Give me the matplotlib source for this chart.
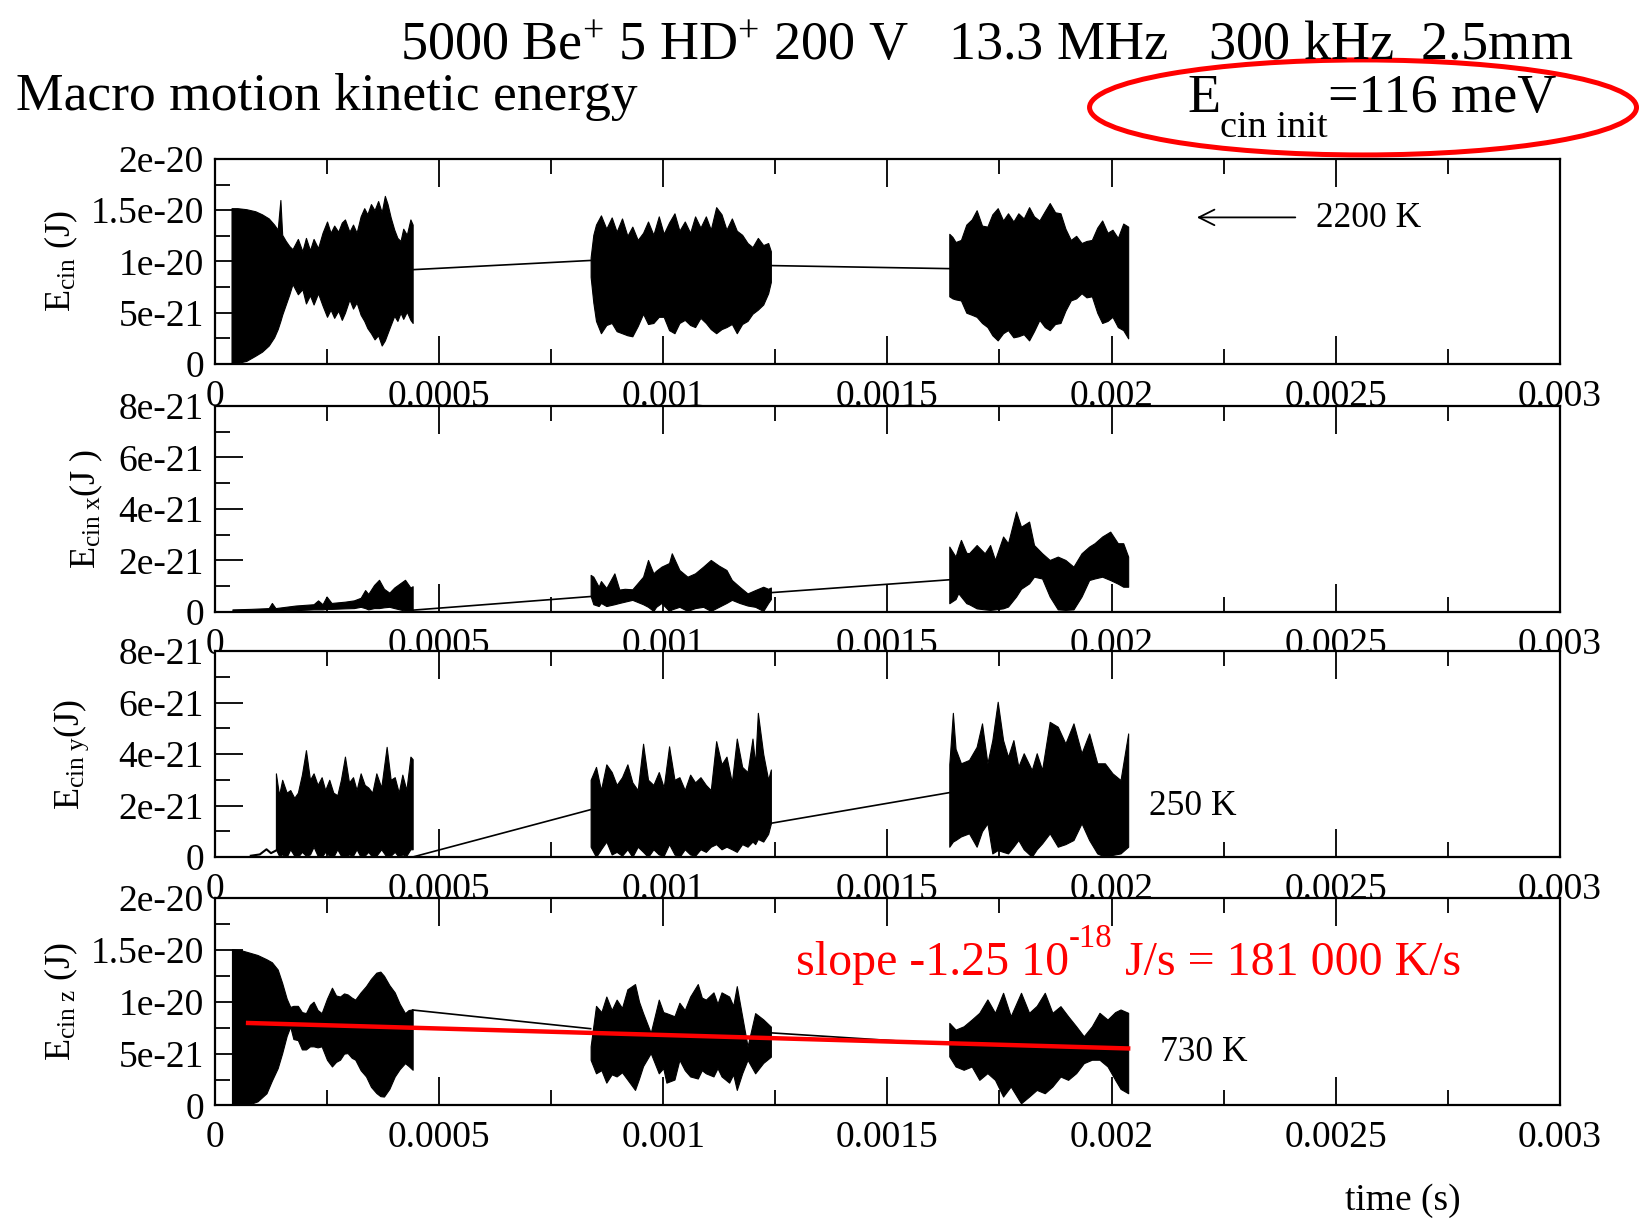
import matplotlib
matplotlib.use("Agg")
import matplotlib.pyplot as plt
from matplotlib.patches import Ellipse
from matplotlib.ticker import MultipleLocator
import numpy as np

# times in microseconds, energies in units of 1e-21 J
US = 1e-6
EU = 1e-21

x_ticks = [0, 0.0005, 0.001, 0.0015, 0.002, 0.0025, 0.003]
x_ticklabels = ["0", "0.0005", "0.001", "0.0015", "0.002", "0.0025", "0.003"]
y_ticks_big = [0, 5e-21, 1e-20, 1.5e-20, 2e-20]
y_ticklabels_big = ["0", "5e-21", "1e-20", "1.5e-20", "2e-20"]
y_ticks_small = [0, 2e-21, 4e-21, 6e-21, 8e-21]
y_ticklabels_small = ["0", "2e-21", "4e-21", "6e-21", "8e-21"]

# ---- total kinetic energy ----
tot_b1_t = [37, 50, 70, 90, 105, 120, 132, 140, 146, 150, 158, 166, 173, 185, 195, 203, 212, 220, 230, 240,
            250, 258, 266, 275, 283, 290, 300, 308, 316, 325, 333, 340, 348, 356, 364, 372, 379, 385, 392, 400,
            407, 414, 420, 428, 436, 441]
tot_b1_hi = [15.2, 15.2, 15.1, 14.9, 14.6, 14.2, 13.6, 13.1, 16.0, 12.6, 12.0, 11.5, 11.2, 12.2, 11.0, 12.3, 11.1, 12.2, 11.3, 12.8,
             13.9, 12.8, 13.5, 12.9, 13.8, 14.1, 12.9, 13.6, 12.8, 14.4, 15.2, 14.6, 15.6, 15.0, 15.9, 14.8, 16.4, 15.6, 14.3, 13.1,
             12.3, 12.0, 13.2, 12.6, 14.1, 13.6]
tot_b1_lo = [0.0, 0.1, 0.3, 0.8, 1.2, 1.8, 2.6, 3.4, 4.2, 4.8, 5.8, 6.8, 7.8, 6.8, 7.3, 5.9, 6.7, 5.8, 6.9, 5.7,
             4.6, 5.3, 4.5, 5.2, 4.3, 5.0, 6.3, 5.4, 6.0, 4.8, 4.2, 3.5, 3.0, 2.4, 2.8, 1.8, 2.3, 3.0, 3.8, 4.7,
             4.2, 5.0, 4.4, 5.1, 4.3, 4.0]
tot_b2_t = [838, 844, 850, 861, 873, 885, 896, 908, 920, 931, 943, 955, 966, 978, 990, 1001, 1013, 1025, 1036, 1048,
            1060, 1071, 1083, 1095, 1106, 1118, 1130, 1141, 1153, 1164, 1176, 1188, 1199, 1211, 1223, 1234, 1240]
tot_b2_hi = [10.4, 12.6, 13.6, 14.5, 13.2, 14.3, 12.9, 14.2, 12.5, 13.4, 12.1, 12.8, 13.9, 12.6, 14.4, 12.7, 13.8, 14.7, 13.0, 13.9,
             12.8, 14.4, 13.3, 14.4, 13.1, 15.3, 14.6, 13.1, 14.2, 13.0, 12.6, 11.8, 11.4, 12.3, 11.6, 11.8, 11.0]
tot_b2_lo = [8.5, 6.0, 4.2, 3.0, 3.8, 4.0, 3.2, 3.0, 2.8, 2.7, 3.7, 4.9, 3.9, 4.0, 4.6, 4.6, 3.3, 3.0, 4.0, 4.3,
             3.8, 3.6, 4.5, 4.0, 3.4, 3.0, 3.4, 3.6, 3.9, 3.0, 3.9, 4.2, 4.9, 5.3, 5.8, 6.9, 8.0]
tot_b3_t = [1638, 1645, 1652, 1664, 1676, 1688, 1699, 1711, 1723, 1734, 1746, 1758, 1769, 1781, 1792, 1804, 1816, 1827,
            1839, 1851, 1862, 1874, 1886, 1897, 1909, 1921, 1933, 1944, 1956, 1968, 1979, 1991, 2002, 2014, 2026, 2037]
tot_b3_hi = [12.7, 12.4, 11.9, 12.1, 13.6, 14.1, 15.0, 13.5, 13.4, 14.6, 15.2, 14.0, 14.7, 13.9, 14.7, 14.2, 15.3, 14.4,
             14.0, 14.9, 15.7, 14.8, 14.7, 13.2, 12.1, 12.5, 11.8, 12.0, 12.1, 13.3, 14.0, 12.8, 13.1, 12.3, 13.7, 13.4]
tot_b3_lo = [6.6, 6.4, 6.3, 6.2, 5.0, 4.8, 4.6, 4.0, 3.6, 2.8, 2.3, 3.0, 3.3, 2.6, 2.7, 2.9, 2.3, 3.2,
             4.3, 3.6, 3.3, 3.9, 4.0, 5.2, 6.2, 6.4, 6.9, 6.5, 6.6, 5.0, 4.0, 4.2, 4.6, 3.6, 3.3, 2.5]
tot_gap_t = [[441, 838], [1240, 1640]]
tot_gap_e = [[9.2, 10.1], [9.6, 9.3]]

# ---- x component ----
ex_b1_t = [39, 80, 120, 127, 135, 180, 220, 230, 240, 249, 260, 290, 310, 325, 335, 342, 355, 366, 377, 389,
           400, 412, 424, 436, 441]
ex_b1_hi = [0.1, 0.12, 0.15, 0.35, 0.15, 0.25, 0.3, 0.45, 0.3, 0.6, 0.35, 0.4, 0.45, 0.55, 0.85, 0.7, 1.05, 1.25, 0.9, 0.75,
            0.95, 1.1, 1.25, 0.95, 1.0]
ex_b1_lo = [0.0, 0.02, 0.04, 0.05, 0.05, 0.07, 0.1, 0.1, 0.1, 0.12, 0.12, 0.14, 0.15, 0.2, 0.15, 0.1, 0.15, 0.15, 0.18, 0.2,
            0.15, 0.1, 0.05, 0.05, 0.05]
ex_b2_t = [838, 844, 856, 861, 873, 891, 902, 914, 931, 955, 966, 978, 984, 996, 1013, 1019, 1036, 1054, 1071, 1089,
           1106, 1124, 1141, 1153, 1170, 1188, 1205, 1223, 1234, 1240]
ex_b2_hi = [1.44, 1.37, 0.98, 1.2, 0.93, 1.5, 0.87, 0.9, 0.88, 1.37, 2.02, 1.5, 1.6, 1.76, 1.9, 2.28, 1.63, 1.37, 1.5, 1.76,
            2.02, 1.8, 1.63, 1.24, 0.98, 0.72, 0.85, 0.98, 0.9, 0.95]
ex_b2_lo = [0.62, 0.3, 0.23, 0.35, 0.23, 0.3, 0.35, 0.4, 0.47, 0.3, 0.2, 0.04, 0.2, 0.35, 0.04, 0.1, 0.2, 0.04, 0.15, 0.2,
            0.04, 0.2, 0.35, 0.47, 0.35, 0.25, 0.2, 0.04, 0.35, 0.5]
ex_b3_t = [1638, 1652, 1658, 1664, 1676, 1682, 1699, 1717, 1729, 1740, 1758, 1769, 1787, 1798, 1816, 1827, 1845, 1862,
           1880, 1897, 1915, 1933, 1950, 1962, 1979, 1997, 2014, 2026, 2037]
ex_b3_hi = [2.54, 2.15, 2.5, 2.8, 2.3, 2.28, 2.6, 2.28, 2.6, 2.02, 2.93, 2.67, 3.9, 3.31, 3.51, 2.6, 2.28, 2.02,
            2.15, 2.02, 1.76, 2.28, 2.54, 2.67, 2.93, 3.12, 2.67, 2.67, 2.15]
ex_b3_lo = [0.34, 0.5, 0.73, 0.6, 0.34, 0.3, 0.14, 0.1, 0.08, 0.1, 0.14, 0.21, 0.6, 0.9, 1.11, 1.37, 1.3, 0.6,
            0.1, 0.08, 0.1, 0.6, 1.24, 1.3, 1.37, 1.24, 1.1, 0.98, 0.98]
ex_gap_t = [[441, 838], [1240, 1638]]
ex_gap_e = [[0.07, 0.6], [0.75, 1.25]]

# ---- y component ----
ey_pre_t = [80, 100, 115, 125, 136]
ey_pre_e = [0.05, 0.1, 0.3, 0.15, 0.25]
ey_b1_t = [136, 143, 150, 160, 168, 177, 185, 194, 203, 212, 220, 229, 238, 246, 255, 264, 273, 281, 290, 299,
           308, 316, 325, 334, 342, 351, 360, 371, 383, 392, 401, 410, 418, 427, 436, 441]
ey_b1_hi = [3.25, 2.4, 3.0, 2.5, 2.6, 2.3, 2.5, 3.2, 4.15, 3.0, 3.25, 2.8, 3.1, 2.6, 3.0, 2.5, 2.4, 3.0, 3.9, 2.9,
            3.1, 2.6, 3.25, 2.8, 2.7, 2.5, 3.25, 2.7, 4.28, 3.0, 3.1, 2.5, 3.2, 2.6, 3.9, 3.8]
ey_b1_lo = [0.3, 0.05, 0.1, 0.0, 0.3, 0.05, 0.0, 0.2, 0.05, 0.1, 0.4, 0.05, 0.0, 0.2, 0.05, 0.0, 0.3, 0.05, 0.0, 0.1,
            0.05, 0.3, 0.0, 0.05, 0.2, 0.0, 0.05, 0.3, 0.0, 0.05, 0.2, 0.0, 0.1, 0.05, 0.3, 0.3]
ey_b2_t = [838, 850, 861, 873, 885, 896, 908, 920, 931, 943, 955, 966, 978, 990, 1001, 1013, 1025, 1036, 1048, 1060,
           1071, 1083, 1095, 1106, 1118, 1130, 1141, 1153, 1164, 1176, 1188, 1199, 1205, 1211, 1223, 1234, 1240]
ey_b2_hi = [3.0, 3.5, 2.6, 3.6, 3.3, 2.8, 3.1, 3.6, 2.9, 2.6, 4.4, 3.0, 2.8, 3.3, 2.7, 4.3, 3.0, 3.1, 2.6, 3.2,
            2.9, 3.1, 2.8, 2.6, 4.5, 3.6, 3.9, 2.9, 4.6, 3.5, 3.3, 4.6, 3.6, 5.6, 4.0, 3.0, 3.4]
ey_b2_lo = [0.4, 0.0, 0.3, 0.6, 0.1, 0.2, 0.05, 0.3, 0.0, 0.4, 0.2, 0.0, 0.3, 0.1, 0.05, 0.5, 0.1, 0.0, 0.3, 0.1,
            0.05, 0.3, 0.2, 0.4, 0.5, 0.3, 0.4, 0.3, 0.2, 0.5, 0.4, 0.6, 0.5, 0.7, 0.6, 0.9, 1.3]
ey_b3_t = [1638, 1646, 1652, 1664, 1682, 1699, 1711, 1723, 1734, 1746, 1758, 1769, 1781, 1792, 1804, 1822, 1833, 1845,
           1862, 1880, 1897, 1915, 1933, 1950, 1968, 1985, 2002, 2020, 2037]
ey_b3_hi = [3.6, 5.6, 4.2, 3.64, 3.77, 4.28, 5.19, 3.64, 4.54, 6.03, 4.54, 3.89, 4.54, 3.51, 4.03, 3.38, 4.03, 3.38,
            5.25, 5.06, 4.41, 5.19, 4.03, 4.8, 3.64, 3.64, 3.25, 2.99, 4.8]
ey_b3_lo = [0.4, 0.6, 0.66, 0.8, 0.92, 0.4, 1.0, 1.31, 0.14, 0.27, 0.2, 0.14, 0.4, 0.66, 0.3, 0.01, 0.3, 0.53,
            0.92, 0.4, 0.5, 0.66, 1.31, 0.66, 0.14, 0.01, 0.08, 0.14, 0.4]
ey_gap_t = [[441, 838], [1240, 1638]]
ey_gap_e = [[0.0, 1.84], [1.31, 2.5]]

# ---- z component ----
ez_b1_t = [38, 55, 76, 95, 115, 127, 140, 150, 160, 168, 175, 185, 194, 203, 212, 220, 229, 238, 250, 261,
           270, 279, 288, 296, 305, 313, 325, 337, 348, 360, 369, 377, 389, 401, 412, 424, 432, 441]
ez_b1_hi = [15.06, 15.0, 14.74, 14.5, 14.09, 13.8, 13.1, 11.8, 10.3, 9.5, 9.6, 9.6, 9.0, 8.9, 9.7, 10.0, 9.2, 8.9, 10.3, 11.35,
            10.6, 10.5, 10.8, 10.7, 10.4, 10.2, 10.9, 11.5, 12.2, 12.8, 12.9, 12.5, 11.6, 10.9, 9.8, 8.9, 9.2, 9.25]
ez_b1_lo = [0.0, 0.0, 0.1, 0.4, 1.18, 2.4, 3.6, 5.05, 6.7, 7.6, 6.4, 6.3, 5.4, 5.4, 5.7, 5.7, 5.6, 5.7, 4.4, 3.76,
            4.2, 4.41, 5.0, 5.05, 4.6, 4.41, 3.4, 2.8, 1.8, 1.2, 0.9, 0.86, 1.6, 2.79, 3.5, 4.08, 3.8, 3.44]
ez_b2_t = [838, 850, 862, 873, 885, 896, 908, 920, 937, 946, 955, 972, 990, 1000, 1007, 1025, 1036, 1048, 1060, 1077,
           1086, 1095, 1112, 1121, 1130, 1147, 1156, 1164, 1176, 1188, 1205, 1223, 1240]
ez_b2_hi = [5.7, 9.6, 9.0, 10.5, 9.2, 10.2, 9.4, 11.2, 11.7, 10.0, 8.9, 7.0, 10.2, 9.0, 8.9, 8.6, 9.9, 9.2, 10.5, 11.7,
            10.4, 10.2, 10.9, 9.8, 10.9, 10.5, 9.6, 11.5, 8.6, 5.7, 8.9, 8.3, 7.6]
ez_b2_lo = [4.4, 3.1, 3.4, 2.2, 3.0, 2.8, 3.2, 2.5, 1.5, 2.6, 3.8, 5.05, 3.1, 3.6, 2.2, 2.5, 4.4, 3.4, 2.8, 2.6,
            3.4, 3.1, 2.8, 3.6, 2.8, 2.2, 3.0, 1.5, 3.1, 4.4, 3.1, 4.1, 4.7]
ez_b3_t = [1638, 1652, 1670, 1688, 1705, 1723, 1740, 1758, 1775, 1798, 1816, 1833, 1851, 1868, 1886, 1903, 1921, 1938,
           1956, 1973, 1991, 2008, 2020, 2037]
ez_b3_hi = [7.96, 7.31, 7.63, 8.28, 8.93, 10.22, 8.93, 10.86, 8.6, 10.86, 8.93, 9.6, 10.86, 8.93, 9.57, 8.6, 7.63, 6.67,
            7.63, 8.93, 8.28, 9.0, 9.25, 8.93]
ez_b3_lo = [4.73, 3.76, 3.44, 3.76, 2.47, 3.12, 2.47, 0.86, 1.83, 0.21, 0.86, 1.5, 1.18, 1.83, 2.79, 2.47, 3.12, 4.08,
            4.41, 4.41, 3.76, 2.47, 1.6, 1.18]
ez_gap_t = [[441, 838], [1240, 1638]]
ez_gap_e = [[9.2, 7.4], [7.0, 5.9]]

# linear fit on E_cin z
fit_t = [74, 2037]
fit_e0 = 7.95
fit_slope = -1.25e-18  # J/s

plt.rcParams["font.family"] = "Liberation Serif"
plt.rcParams["mathtext.fontset"] = "custom"
plt.rcParams["mathtext.rm"] = "Liberation Serif"
plt.rcParams["mathtext.it"] = "Liberation Serif:italic"
plt.rcParams["mathtext.bf"] = "Liberation Serif:bold"

W, H = 1642, 1221
fig = plt.figure(figsize=(W / 100, H / 100), dpi=100)
renderer = fig.canvas.get_renderer()

left = 0.1309
width = 0.8191
boxes = [(0.7019, 0.1679), (0.4988, 0.1687), (0.2981, 0.1687), (0.0946, 0.1700)]
axes = [fig.add_axes([left, b, width, h]) for b, h in boxes]


def draw_bursts(ax, bursts, gaps_t, gaps_e):
    for t, hi, lo in bursts:
        t = np.array(t) * US
        ax.fill_between(t, np.array(lo) * EU, np.array(hi) * EU, color="black", lw=0.8)
    for t, e in zip(gaps_t, gaps_e):
        ax.plot(np.array(t) * US, np.array(e) * EU, color="black", lw=1.2)


def put_pieces(x_px, y_px, pieces, color="black"):
    # pieces: (text, fontsize, baseline shift in px, upward positive); y_px counted from the top
    for s, size, dy in pieces:
        t = fig.text(x_px / W, 1 - (y_px - dy) / H, s, fontsize=size, color=color,
                     ha="left", va="baseline")
        x_px = t.get_window_extent(renderer).x1


draw_bursts(axes[0], [(tot_b1_t, tot_b1_hi, tot_b1_lo), (tot_b2_t, tot_b2_hi, tot_b2_lo),
                      (tot_b3_t, tot_b3_hi, tot_b3_lo)], tot_gap_t, tot_gap_e)
draw_bursts(axes[1], [(ex_b1_t, ex_b1_hi, ex_b1_lo), (ex_b2_t, ex_b2_hi, ex_b2_lo),
                      (ex_b3_t, ex_b3_hi, ex_b3_lo)], ex_gap_t, ex_gap_e)
draw_bursts(axes[2], [(ey_b1_t, ey_b1_hi, ey_b1_lo), (ey_b2_t, ey_b2_hi, ey_b2_lo),
                      (ey_b3_t, ey_b3_hi, ey_b3_lo)], ey_gap_t, ey_gap_e)
axes[2].plot(np.array(ey_pre_t) * US, np.array(ey_pre_e) * EU, color="black", lw=1.5)
draw_bursts(axes[3], [(ez_b1_t, ez_b1_hi, ez_b1_lo), (ez_b2_t, ez_b2_hi, ez_b2_lo),
                      (ez_b3_t, ez_b3_hi, ez_b3_lo)], ez_gap_t, ez_gap_e)

fit_x = np.array(fit_t) * US
fit_y = fit_e0 * EU + fit_slope * (fit_x - fit_x[0])
axes[3].plot(fit_x, fit_y, color="red", lw=3.2, zorder=5)

ylabels = [r"$\mathregular{E_{cin}}$ (J)", r"$\mathregular{E_{cin\ x}}$(J )",
           r"$\mathregular{E_{cin\ y}}$(J)", r"$\mathregular{E_{cin\ z}}$ (J)"]
label_x = [-0.100, -0.082, -0.092, -0.100]

for i, ax in enumerate(axes):
    ax.set_xlim(0, 0.003)
    ax.set_xticks(x_ticks)
    ax.set_xticklabels(x_ticklabels)
    ax.xaxis.set_minor_locator(MultipleLocator(0.00025))
    if i in (0, 3):
        ax.set_ylim(0, 2e-20)
        ax.set_yticks(y_ticks_big)
        ax.set_yticklabels(y_ticklabels_big)
        ax.yaxis.set_minor_locator(MultipleLocator(2.5e-21))
    else:
        ax.set_ylim(0, 8e-21)
        ax.set_yticks(y_ticks_small)
        ax.set_yticklabels(y_ticklabels_small)
        ax.yaxis.set_minor_locator(MultipleLocator(1e-21))
    ax.tick_params(which="both", direction="in", top=True, right=False, width=1.3, labelsize=27)
    ax.tick_params(which="major", length=20)
    ax.tick_params(which="minor", length=10.5)
    ax.tick_params(axis="x", pad=11)
    ax.tick_params(axis="y", pad=8)
    for s in ax.spines.values():
        s.set_linewidth(1.6)
    ax.set_ylabel(ylabels[i], fontsize=26)
    ax.yaxis.set_label_coords(label_x[i], 0.5)

# annotations
axes[0].annotate("", xy=(2184e-6, 14.3e-21), xytext=(2416e-6, 14.3e-21),
                 arrowprops=dict(arrowstyle="->", lw=1.3, color="black", mutation_scale=28))
axes[0].text(2457e-6, 14.2e-21, "2200 K", fontsize=25.5, va="center", ha="left")
axes[2].text(2083e-6, 1.95e-21, "250 K", fontsize=25.5, va="center", ha="left")
axes[3].text(2107e-6, 5.06e-21, "730 K", fontsize=25.5, va="center", ha="left")

put_pieces(796, 975, [("slope -1.25 10", 34.5, 0), ("-18", 23.5, 28), (" J/s = 181 000 K/s", 34.5, 0)],
           color="red")

fig.text(0.2436, 0.9509, r"5000 Be$\mathregular{^{+}}$ 5 HD$\mathregular{^{+}}$ 200 V   13.3 MHz   300 kHz  2.5mm",
         fontsize=39, ha="left", va="baseline")
fig.text(0.0097, 0.9099, "Macro motion kinetic energy", fontsize=38.5, ha="left", va="baseline")
put_pieces(1187, 112, [("E", 39, 0), ("cin init", 27.5, -25), ("=116 meV", 39, 0)])
fig.add_artist(Ellipse((0.8301, 0.9120), 0.3331, 0.0778, transform=fig.transFigure,
                       fill=False, edgecolor="red", lw=3.6))
fig.text(0.8191, 0.0090, "time (s)", fontsize=27, ha="left", va="baseline")

fig.savefig("out.png", dpi=100)
